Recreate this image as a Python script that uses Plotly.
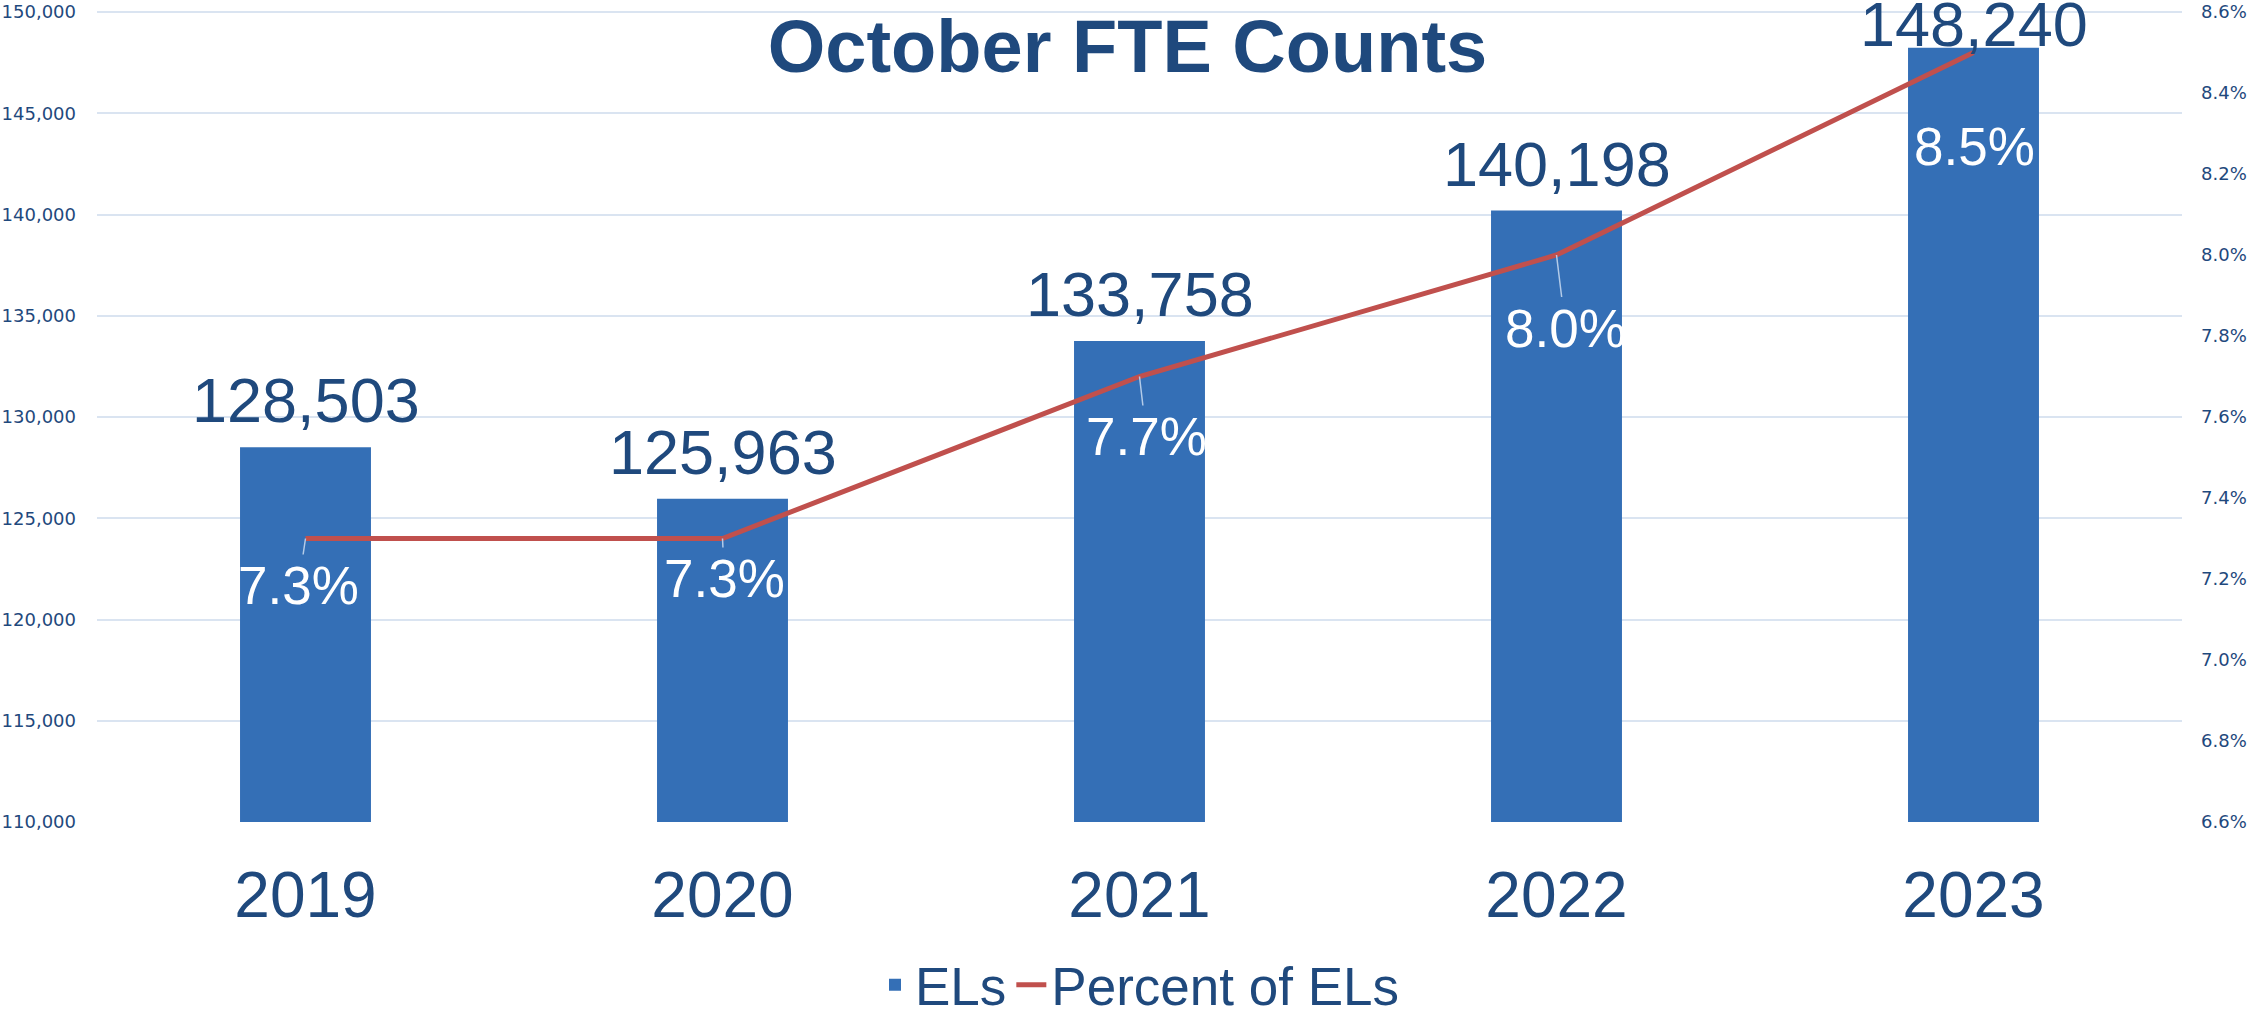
import plotly.graph_objects as go

years = ["2019", "2020", "2021", "2022", "2023"]
els = [128503, 125963, 133758, 140198, 148240]
pct = [0.073, 0.073, 0.077, 0.080, 0.085]
pct_labels = ["7.3%", "7.3%", "7.7%", "8.0%", "8.5%"]

DARK = "#1f497d"
BAR = "#346fb6"
RED = "#c0504d"
GRID = "#dae4f1"
FONT = "Liberation Sans, Arial, sans-serif"

fig = go.Figure()
fig.add_trace(go.Bar(x=years, y=els, name="ELs", marker=dict(color=BAR, line=dict(width=0)),
                     yaxis="y"))
fig.add_trace(go.Scatter(x=years, y=pct, name="Percent of ELs", mode="lines",
                         line=dict(color=RED, width=5), yaxis="y2"))

# value labels above bars (x given as category index)
val_shift = [10, 10, 10, 10, -13]
for i, v in enumerate(els):
    fig.add_annotation(x=i, y=v, xref="x", yref="y", text=f"{v:,}", showarrow=False,
                       yanchor="bottom", yshift=val_shift[i],
                       font=dict(family=FONT, size=63, color=DARK))

# percent labels below line points with leader lines
offs = [(-7, 47), (2, 40), (7, 60), (9, 73), (1, 94)]
for i, p in enumerate(pct):
    dx, dy = offs[i]
    fig.add_annotation(x=i, y=p, xref="x", yref="y2", text=pct_labels[i], showarrow=True,
                       arrowhead=0, arrowwidth=1.5, arrowcolor="#b3cbe8", ax=dx, ay=dy,
                       standoff=0, font=dict(family=FONT, size=53, color="white"))

fig.update_layout(
    width=2255, height=1009,
    margin=dict(l=97, r=73, t=10, b=187),
    paper_bgcolor="white", plot_bgcolor="white",
    bargap=0.686,
    title=dict(text="<b>October FTE Counts</b>", x=0.5, xanchor="center", y=0.954,
               yanchor="middle", font=dict(family=FONT, size=74, color=DARK)),
    font=dict(family=FONT, color=DARK),
    xaxis=dict(type="category", range=[-0.5, 4.5], autorange=False, automargin=False,
               showgrid=False, showline=False, ticks="", ticklabelstandoff=30,
               tickfont=dict(family=FONT, size=64, color=DARK)),
    yaxis=dict(range=[110000, 150100], autorange=False, automargin=False,
               tickmode="linear", tick0=110000, dtick=5000,
               tickformat=",", showgrid=True, ticklabelstandoff=20,
               gridcolor=GRID, gridwidth=2, zeroline=False, showline=False, ticks="",
               tickfont=dict(family="DejaVu Sans", size=18, color=DARK)),
    yaxis2=dict(range=[0.066, 0.08605], autorange=False, automargin=False,
                tickmode="linear", tick0=0.066, dtick=0.002,
                tickformat=".1%", overlaying="y", ticklabelstandoff=18,
                side="right", showgrid=False, zeroline=False, showline=False, ticks="",
                tickfont=dict(family="DejaVu Sans", size=18, color=DARK)),
    legend=dict(orientation="h", x=0.5, xanchor="center", y=0.024, yanchor="middle",
                yref="container", font=dict(family=FONT, size=53, color=DARK),
                bgcolor="rgba(0,0,0,0)"),
    showlegend=True,
)

fig.write_html("out.html", config={"displayModeBar": False},
               post_script="document.body.style.margin='0';")
